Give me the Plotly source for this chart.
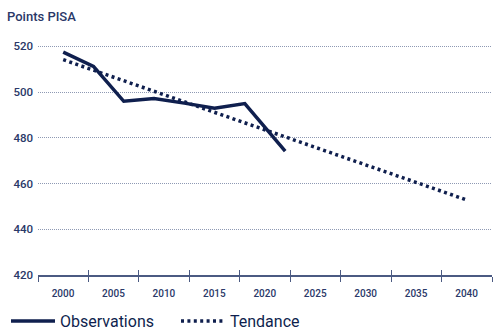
import plotly.graph_objects as go

# Data
obs_years = [2000, 2003, 2006, 2009, 2012, 2015, 2018, 2022]
obs_values = [517.5, 511.3, 496, 497.2, 495.2, 493, 495, 474.2]
trend_years = [2000, 2040]
trend_values = [514.2, 452.8]
band_edges = [1997.5, 2002.5, 2007.5, 2012.5, 2017.5, 2022.5, 2027.5, 2032.5, 2037.5, 2042.5]
band_labels = ["2000", "2005", "2010", "2015", "2020", "2025", "2030", "2035", "2040", ""]
y_ticks = [420, 440, 460, 480, 500, 520]

NAVY = "#0f1f4e"
TXT = "#2a3868"
AXIS = "#4b5a82"
FONT = "Roboto, sans-serif"

fig = go.Figure()
fig.add_trace(go.Scatter(x=obs_years, y=obs_values, mode="lines", name="Observations",
                         line=dict(color=NAVY, width=3.5), xaxis="x", yaxis="y"))
fig.add_trace(go.Scatter(x=trend_years, y=trend_values, mode="lines", name="Tendance",
                         line=dict(color=NAVY, width=3.5, dash="3px,3.4px"), xaxis="x2", yaxis="y"))

xr = [1997.5, 2042.5]
fig.update_layout(
    width=501, height=330,
    margin=dict(l=38, r=9, t=34.5, b=55, autoexpand=False),
    paper_bgcolor="white", plot_bgcolor="white",
    font=dict(family=FONT, color=TXT, size=12),
    title=dict(text="Points PISA", x=7/501, xanchor="left", xref="container",
               y=1-16/330, yanchor="middle", yref="container",
               font=dict(family=FONT, size=13, color=TXT, weight=500)),
    xaxis=dict(range=xr, tickmode="array", tickvals=band_edges, ticktext=band_labels,
               ticks="outside", ticklen=5, tickwidth=1.3, tickcolor=AXIS,
               showline=True, linecolor=AXIS, linewidth=1.5,
               showgrid=False, zeroline=False, ticklabelshift=25,
               ticklabelstandoff=3,
               tickfont=dict(family=FONT, size=10, color=TXT, weight=500)),
    xaxis2=dict(range=xr, overlaying="x", anchor="y", side="bottom",
                tickmode="array", tickvals=band_edges, ticks="inside", ticklen=5,
                tickwidth=1.3, tickcolor=AXIS, showticklabels=False,
                showline=False, showgrid=False, zeroline=False),
    yaxis=dict(range=[420, 525], tickmode="array", tickvals=y_ticks,
               showgrid=True, gridcolor="#8e99b3", gridwidth=1, griddash="1px,1px",
               zeroline=False, showline=False, ticks="", ticklabelstandoff=4,
               tickfont=dict(family=FONT, size=11.5, color=TXT, weight=500)),
    legend=dict(orientation="h", x=6/501, xref="container", xanchor="left",
                y=9/330, yref="container", yanchor="middle",
                font=dict(family=FONT, size=16, color=NAVY), entrywidth=111,
                itemwidth=44, bgcolor="rgba(0,0,0,0)"),
    showlegend=True,
)

fig.write_html("out.html")
